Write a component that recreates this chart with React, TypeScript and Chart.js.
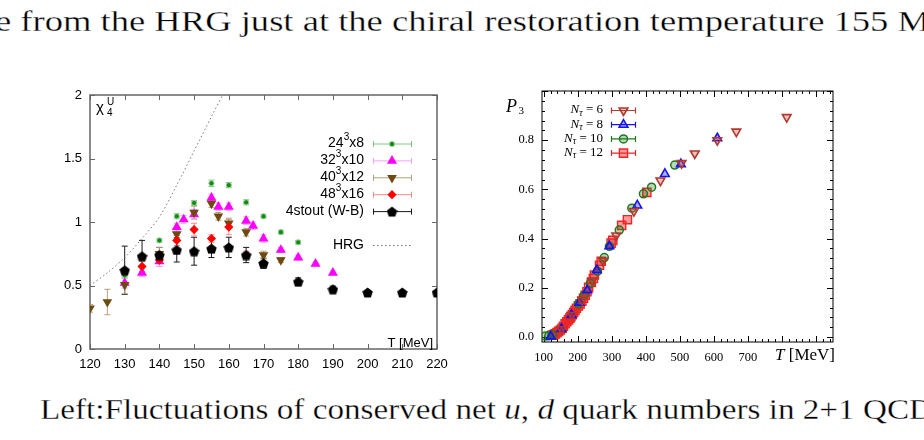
import React, { useEffect, useRef } from 'react';
import { Chart, registerables } from 'chart.js';
import { drawPoint } from 'chart.js/helpers';

Chart.register(...registerables);

/* ---------- left panel: chi_4^u versus T [MeV] ---------- */
const LEFT_T_TICKS = [120, 130, 140, 150, 160, 170, 180, 190, 200, 210, 220];
const LEFT_CHI_TICKS = [0, 0.5, 1, 1.5, 2];

const T_24x8 = [130, 140, 145, 150, 155, 160, 165, 170, 175, 180];
const CHI_24x8 = [0.58, 0.855, 1.045, 1.15, 1.305, 1.29, 1.155, 1.045, 0.92, 0.84];
const ERR_24x8 = [0.02, 0.015, 0.02, 0.02, 0.025, 0.02, 0.02, 0.015, 0.015, 0.015];

const T_32x10 = [130, 135, 140, 145, 147, 150, 155, 157, 160, 165, 167, 170, 175, 180, 185, 190];
const CHI_32x10 = [0.52, 0.6, 0.69, 0.96, 1.02, 1.06, 1.19, 1.12, 1.12, 1.01, 0.97, 0.87, 0.78, 0.72, 0.67, 0.6];
const ERR_32x10 = [0.04, 0.03, 0.04, 0.03, 0.03, 0.04, 0.03, 0.03, 0.03, 0.03, 0.03, 0.03, 0.02, 0.02, 0.015, 0.015];

const T_40x12 = [120, 125, 130, 140, 145, 150, 155, 157, 160, 165, 170, 175];
const CHI_40x12 = [0.32, 0.37, 0.505, 0.75, 0.905, 1.075, 1.145, 1.045, 0.99, 0.92, 0.74, 0.7];
const ERR_40x12 = [0.03, 0.1, 0.07, 0.05, 0.04, 0.05, 0.03, 0.03, 0.04, 0.03, 0.03, 0.02];

const T_48x16 = [135, 140, 145, 150, 155, 160, 165];
const CHI_48x16 = [0.65, 0.7, 0.855, 0.94, 0.87, 0.96, 0.74];
const ERR_48x16 = [0.04, 0.05, 0.04, 0.05, 0.03, 0.06, 0.03];

const T_STOUT = [130, 135, 140, 145, 150, 155, 160, 165, 170, 180, 190, 200, 210, 220];
const CHI_STOUT = [0.62, 0.73, 0.74, 0.78, 0.77, 0.79, 0.8, 0.74, 0.675, 0.53, 0.47, 0.445, 0.445, 0.445];
const ERR_STOUT = [0.19, 0.125, 0.06, 0.095, 0.11, 0.07, 0.08, 0.06, 0.04, 0.03, 0.025, 0.012, 0.01, 0.01];

const T_HRG = [120, 125, 130, 135, 140, 145, 150, 155, 159];
const CHI_HRG = [0.5, 0.6, 0.72, 0.87, 1.04, 1.29, 1.56, 1.83, 2.04];

/* ---------- right panel: P3 versus T [MeV] ---------- */
const RIGHT_T_TICKS = [100, 200, 300, 400, 500, 600, 700, 800, 900];
const RIGHT_P_TICKS = [0, 0.2, 0.4, 0.6, 0.8];

const T_NT6 = [152, 183, 213, 243, 274, 313, 365, 443, 505, 544, 610, 666, 814];
const P_NT6 = [0.032, 0.09, 0.15, 0.23, 0.31, 0.413, 0.512, 0.636, 0.707, 0.746, 0.8, 0.835, 0.894];

const T_NT8 = [121, 152, 182, 205, 228, 256, 293, 375, 456, 503, 610];
const P_NT8 = [0.003, 0.033, 0.09, 0.14, 0.19, 0.272, 0.369, 0.535, 0.663, 0.703, 0.808];

const T_NT10 = [105, 115, 126, 202, 219, 237, 258, 278, 293, 322, 359, 393, 417, 485];
const P_NT10 = [0.004, 0.005, 0.008, 0.135, 0.171, 0.218, 0.268, 0.323, 0.369, 0.435, 0.524, 0.582, 0.609, 0.699];

const T_NT12 = [125, 130, 134, 139, 144, 149, 154, 158, 163, 168, 173, 177, 180, 184, 188, 192, 196, 202, 207, 212, 217, 222, 227, 232, 240, 246, 249, 264, 269, 298, 303, 329, 346, 403];
const P_NT12 = [0.008, 0.01, 0.013, 0.018, 0.023, 0.029, 0.036, 0.044, 0.054, 0.062, 0.07, 0.077, 0.083, 0.091, 0.1, 0.108, 0.117, 0.127, 0.135, 0.146, 0.158, 0.17, 0.184, 0.202, 0.222, 0.238, 0.252, 0.292, 0.308, 0.382, 0.393, 0.454, 0.477, 0.588];

const SANS = '"Liberation Sans", Arial, Helvetica, sans-serif';
const SERIF = '"Liberation Serif", "Times New Roman", serif';

const pts = (xs: number[], ys: number[]) => xs.map((x, i) => ({ x, y: ys[i] }));

function pentagon(size: number, color: string) {
  const c = document.createElement('canvas');
  c.width = size;
  c.height = size;
  const g = c.getContext('2d')!;
  const r = size / 2;
  g.beginPath();
  for (let k = 0; k < 5; k++) {
    const a = -Math.PI / 2 + (k * 2 * Math.PI) / 5;
    const px = r + r * Math.cos(a);
    const py = r + 0.6 + r * Math.sin(a);
    if (k === 0) g.moveTo(px, py);
    else g.lineTo(px, py);
  }
  g.closePath();
  g.fillStyle = color;
  g.fill();
  return c;
}

type Piece = { t: string; font: string; dy: number };

function drawRich(ctx: CanvasRenderingContext2D, pieces: Piece[], right: number, y: number) {
  let w = 0;
  pieces.forEach((p) => {
    ctx.font = p.font;
    w += ctx.measureText(p.t).width;
  });
  let x = right - w;
  ctx.textAlign = 'left';
  pieces.forEach((p) => {
    ctx.font = p.font;
    ctx.fillText(p.t, x, y + p.dy);
    x += ctx.measureText(p.t).width;
  });
}

function drawMarker(ctx: CanvasRenderingContext2D, opts: any, x: number, y: number) {
  ctx.save();
  ctx.fillStyle = opts.backgroundColor;
  ctx.strokeStyle = opts.borderColor;
  ctx.lineWidth = opts.borderWidth;
  drawPoint(ctx, opts, x, y);
  ctx.restore();
}

// vertical error bars with short caps, read from dataset.errY
const errorBars = {
  id: 'errorBars',
  beforeDatasetsDraw(chart: any) {
    const { ctx, chartArea, scales } = chart;
    ctx.save();
    ctx.beginPath();
    ctx.rect(chartArea.left, chartArea.top, chartArea.width, chartArea.height);
    ctx.clip();
    chart.data.datasets.forEach((ds: any) => {
      if (!ds.errY) return;
      ctx.strokeStyle = ds.errColor;
      ctx.lineWidth = 1;
      ds.data.forEach((p: any, i: number) => {
        const e = ds.errY[i];
        if (!e) return;
        const x = scales.x.getPixelForValue(p.x);
        const y1 = scales.y.getPixelForValue(p.y - e);
        const y2 = scales.y.getPixelForValue(p.y + e);
        ctx.beginPath();
        ctx.moveTo(x, y1);
        ctx.lineTo(x, y2);
        ctx.moveTo(x - 3, y1);
        ctx.lineTo(x + 3, y1);
        ctx.moveTo(x - 3, y2);
        ctx.lineTo(x + 3, y2);
        ctx.stroke();
      });
    });
    ctx.restore();
  },
};

// box around the plot with inward tick marks on all four sides
function frame(o: {
  id: string;
  color: string;
  width: number;
  xMajor: number[];
  yMajor: number[];
  xMinor?: [number, number, number];
  yMinor?: [number, number, number];
  major: number;
  minor: number;
}) {
  return {
    id: o.id,
    beforeDatasetsDraw(chart: any) {
      const { ctx, chartArea: a, scales } = chart;
      ctx.save();
      ctx.strokeStyle = o.color;
      ctx.lineWidth = o.width;
      ctx.strokeRect(a.left, a.top, a.width, a.height);
      ctx.lineWidth = 1;
      const xt = (v: number, len: number) => {
        const x = Math.round(scales.x.getPixelForValue(v)) + 0.5;
        ctx.moveTo(x, a.bottom);
        ctx.lineTo(x, a.bottom - len);
        ctx.moveTo(x, a.top);
        ctx.lineTo(x, a.top + len);
      };
      const yt = (v: number, len: number) => {
        const y = Math.round(scales.y.getPixelForValue(v)) + 0.5;
        ctx.moveTo(a.left, y);
        ctx.lineTo(a.left + len, y);
        ctx.moveTo(a.right, y);
        ctx.lineTo(a.right - len, y);
      };
      ctx.beginPath();
      o.xMajor.forEach((v) => xt(v, o.major));
      o.yMajor.forEach((v) => yt(v, o.major));
      if (o.xMinor) for (let v = o.xMinor[0]; v <= o.xMinor[1] + 1e-9; v += o.xMinor[2]) xt(v, o.minor);
      if (o.yMinor) for (let v = o.yMinor[0]; v <= o.yMinor[1] + 1e-9; v += o.yMinor[2]) yt(v, o.minor);
      ctx.stroke();
      ctx.restore();
    },
  };
}

const LEFT_NAMES: [string, string, string][] = [
  ['24', '3', 'x8'],
  ['32', '3', 'x10'],
  ['40', '3', 'x12'],
  ['48', '3', 'x16'],
  ['4stout (W-B)', '', ''],
];

const leftDecor = {
  id: 'leftDecor',
  afterDraw(chart: any) {
    const ctx: CanvasRenderingContext2D = chart.ctx;
    ctx.save();
    ctx.fillStyle = '#000';
    ctx.textBaseline = 'middle';
    chart.data.datasets.forEach((ds: any, i: number) => {
      if (ds.legendRow === undefined) return;
      const y = ds.legendRow < 5 ? 63.5 + ds.legendRow * 16.9 : 165;
      const n = ds.legendRow < 5 ? LEFT_NAMES[ds.legendRow] : ['HRG', '', ''];
      const pieces: Piece[] = [{ t: n[0], font: `14px ${SANS}`, dy: 0 }];
      if (n[1]) pieces.push({ t: n[1], font: `10px ${SANS}`, dy: -6 });
      if (n[2]) pieces.push({ t: n[2], font: `14px ${SANS}`, dy: 0 });
      ctx.fillStyle = '#000';
      drawRich(ctx, pieces, 324, y);
      ctx.beginPath();
      if (ds.legendRow < 5) {
        ctx.strokeStyle = ds.errColor;
        ctx.lineWidth = 1;
        ctx.moveTo(333, y + 0.5);
        ctx.lineTo(372, y + 0.5);
        ctx.moveTo(333.5, y - 2.5);
        ctx.lineTo(333.5, y + 3.5);
        ctx.moveTo(371.5, y - 2.5);
        ctx.lineTo(371.5, y + 3.5);
        ctx.stroke();
        drawMarker(ctx, chart.getDatasetMeta(i).data[0].options, 352, y + 0.5);
      } else {
        ctx.strokeStyle = '#777';
        ctx.lineWidth = 1;
        ctx.setLineDash([1.5, 2.5]);
        ctx.moveTo(333, y + 0.5);
        ctx.lineTo(372, y + 0.5);
        ctx.stroke();
        ctx.setLineDash([]);
      }
    });
    // axis symbol chi_4^U
    ctx.fillStyle = '#000';
    ctx.textBaseline = 'alphabetic';
    ctx.textAlign = 'left';
    ctx.font = `15px ${SANS}`;
    ctx.fillText('\u03c7', 56, 32);
    ctx.font = `10px ${SANS}`;
    ctx.fillText('4', 67, 35.5);
    ctx.fillText('U', 67, 24.5);
    // axis title in the lower right corner
    ctx.font = `13px ${SANS}`;
    ctx.textAlign = 'right';
    ctx.fillText('T [MeV]', 393, 267);
    ctx.restore();
  },
};

const RIGHT_NAMES = ['6', '8', '10', '12'];

const rightDecor = {
  id: 'rightDecor',
  afterDraw(chart: any) {
    const ctx: CanvasRenderingContext2D = chart.ctx;
    ctx.save();
    ctx.textBaseline = 'middle';
    chart.data.datasets.forEach((ds: any, i: number) => {
      const y = 30 + ds.legendRow * 14.2;
      ctx.fillStyle = '#000';
      drawRich(
        ctx,
        [
          { t: 'N', font: `italic 13px ${SERIF}`, dy: 0 },
          { t: '\u03c4', font: `italic 9.5px ${SERIF}`, dy: 3 },
          { t: ' = ' + RIGHT_NAMES[ds.legendRow], font: `13px ${SERIF}`, dy: 0 },
        ],
        123,
        y
      );
      ctx.beginPath();
      ctx.strokeStyle = ds.borderColor;
      ctx.lineWidth = 1.2;
      ctx.moveTo(131, y + 0.5);
      ctx.lineTo(156, y + 0.5);
      ctx.moveTo(131.5, y - 2.5);
      ctx.lineTo(131.5, y + 3.5);
      ctx.moveTo(155.5, y - 2.5);
      ctx.lineTo(155.5, y + 3.5);
      ctx.stroke();
      drawMarker(ctx, chart.getDatasetMeta(i).data[0].options, 143.5, y + 0.5);
    });
    ctx.textBaseline = 'alphabetic';
    ctx.textAlign = 'left';
    ctx.fillStyle = '#000';
    ctx.font = `italic 18px ${SERIF}`;
    ctx.fillText('P', 26, 31.5);
    ctx.font = `11px ${SERIF}`;
    ctx.fillText('3', 38.5, 34);
    ctx.textAlign = 'right';
    ctx.font = `17px ${SERIF}`;
    const rest = ' [MeV]';
    const wr = ctx.measureText(rest).width;
    ctx.fillText(rest, 355, 280);
    ctx.font = `italic 17px ${SERIF}`;
    ctx.fillText('T', 355 - wr, 280);
    ctx.restore();
  },
};

function leftConfig(): any {
  const stout = pentagon(11, '#000');
  return {
    type: 'scatter',
    data: {
      datasets: [
        {
          data: pts(T_STOUT, CHI_STOUT), errY: ERR_STOUT, errColor: '#1a1a1a', legendRow: 4,
          pointStyle: stout, pointRadius: 5.5, backgroundColor: '#000', borderColor: '#000', borderWidth: 0,
        },
        {
          data: pts(T_48x16, CHI_48x16), errY: ERR_48x16, errColor: '#f58a8a', legendRow: 3,
          pointStyle: 'rectRot', pointRadius: 4.6, backgroundColor: '#ff0000', borderColor: '#ff0000', borderWidth: 0,
        },
        {
          data: pts(T_40x12, CHI_40x12), errY: ERR_40x12, errColor: '#b5a07a', legendRow: 2,
          pointStyle: 'triangle', pointRotation: 180, pointRadius: 5.6, backgroundColor: '#6e4a10', borderColor: '#6e4a10', borderWidth: 0,
        },
        {
          data: pts(T_32x10, CHI_32x10), errY: ERR_32x10, errColor: '#f5a0f5', legendRow: 1,
          pointStyle: 'triangle', pointRadius: 5.8, backgroundColor: '#ff00ff', borderColor: '#ff00ff', borderWidth: 0,
        },
        {
          data: pts(T_24x8, CHI_24x8), errY: ERR_24x8, errColor: '#80c880', legendRow: 0,
          pointStyle: 'circle', pointRadius: 2.6, backgroundColor: '#138a13', borderColor: '#9ad29a', borderWidth: 1,
        },
        {
          type: 'line', data: pts(T_HRG, CHI_HRG), legendRow: 5,
          borderColor: '#777', borderWidth: 1, borderDash: [1.5, 2.5], pointRadius: 0, tension: 0.3, fill: false,
        },
      ],
    },
    options: {
      animation: false,
      responsive: false,
      events: [],
      layout: { padding: { left: 0, right: 23, top: 15, bottom: 0 } },
      plugins: { legend: { display: false }, tooltip: { enabled: false } },
      scales: {
        x: {
          type: 'linear', min: 120, max: 220,
          grid: { display: false, drawTicks: false }, border: { display: false },
          afterBuildTicks: (s: any) => { s.ticks = LEFT_T_TICKS.map((v) => ({ value: v })); },
          ticks: { color: '#000', font: { family: SANS, size: 13 }, padding: 8, maxRotation: 0, autoSkip: false, callback: (v: number) => String(v) },
          afterFit: (s: any) => { s.height = 31; s.paddingLeft = 0; s.paddingRight = 0; },
        },
        y: {
          type: 'linear', min: 0, max: 2,
          grid: { display: false, drawTicks: false }, border: { display: false },
          afterBuildTicks: (s: any) => { s.ticks = LEFT_CHI_TICKS.map((v) => ({ value: v })); },
          ticks: { color: '#000', font: { family: SANS, size: 13 }, padding: 8, callback: (v: number) => String(v) },
          afterFit: (s: any) => { s.width = 50; s.paddingTop = 0; s.paddingBottom = 0; },
        },
      },
    },
    plugins: [
      frame({ id: 'leftFrame', color: '#666', width: 1.5, xMajor: LEFT_T_TICKS, yMajor: LEFT_CHI_TICKS, major: 5, minor: 0 }),
      errorBars,
      leftDecor,
    ],
  };
}

function rightConfig(): any {
  return {
    type: 'scatter',
    data: {
      datasets: [
        {
          data: pts(T_NT6, P_NT6), legendRow: 0,
          pointStyle: 'triangle', pointRotation: 180, pointRadius: 5, backgroundColor: 'rgba(179,56,46,0.3)', borderColor: '#b3382e', borderWidth: 1.6,
        },
        {
          data: pts(T_NT8, P_NT8), legendRow: 1,
          pointStyle: 'triangle', pointRadius: 5, backgroundColor: 'rgba(20,20,240,0.35)', borderColor: '#1414f0', borderWidth: 1.6,
        },
        {
          data: pts(T_NT10, P_NT10), legendRow: 2,
          pointStyle: 'circle', pointRadius: 4, backgroundColor: 'rgba(29,122,29,0.3)', borderColor: '#1d7a1d', borderWidth: 1.5,
        },
        {
          data: pts(T_NT12, P_NT12), legendRow: 3,
          pointStyle: 'rect', pointRadius: 5.8, backgroundColor: 'rgba(240,36,36,0.45)', borderColor: '#f02424', borderWidth: 1.4,
        },
      ],
    },
    options: {
      animation: false,
      responsive: false,
      events: [],
      layout: { padding: { left: 0, right: 67, top: 11, bottom: 0 } },
      plugins: { legend: { display: false }, tooltip: { enabled: false } },
      scales: {
        x: {
          type: 'linear', min: 95, max: 950,
          grid: { display: false, drawTicks: false }, border: { display: false },
          afterBuildTicks: (s: any) => { s.ticks = RIGHT_T_TICKS.map((v) => ({ value: v })); },
          ticks: {
            color: '#000', font: { family: SERIF, size: 12.5 }, padding: 8, maxRotation: 0, autoSkip: false,
            callback: (v: number) => (v <= 700 ? String(v) : ''),
          },
          afterFit: (s: any) => { s.height = 38; s.paddingLeft = 0; s.paddingRight = 0; },
        },
        y: {
          type: 'linear', min: -0.02, max: 1.0,
          grid: { display: false, drawTicks: false }, border: { display: false },
          afterBuildTicks: (s: any) => { s.ticks = RIGHT_P_TICKS.map((v) => ({ value: v })); },
          ticks: { color: '#000', font: { family: SERIF, size: 12.5 }, padding: 8, callback: (v: number) => v.toFixed(1) },
          afterFit: (s: any) => { s.width = 62; s.paddingTop = 0; s.paddingBottom = 0; },
        },
      },
    },
    plugins: [
      frame({
        id: 'rightFrame', color: '#000', width: 1, xMajor: RIGHT_T_TICKS, yMajor: [...RIGHT_P_TICKS, 1.0],
        xMinor: [100, 940, 20], yMinor: [0, 1.0, 0.04], major: 6, minor: 3,
      }),
      rightDecor,
    ],
  };
}

const textStyle = { stroke: '#fff', strokeWidth: 0.3, paintOrder: 'normal' } as any;

export default function App() {
  const leftRef = useRef<HTMLCanvasElement>(null);
  const rightRef = useRef<HTMLCanvasElement>(null);

  useEffect(() => {
    const a = new Chart(leftRef.current!, leftConfig());
    const b = new Chart(rightRef.current!, rightConfig());
    return () => {
      a.destroy();
      b.destroy();
    };
  }, []);

  return (
    <div style={{ position: 'fixed', left: 0, top: 0, width: 924, height: 440, background: '#fff', overflow: 'hidden' }}>
      <svg width={924} height={440} style={{ position: 'absolute', left: 0, top: 0 }}>
        <text x={-5} y={31} fontFamily={SERIF} fontSize={29} textLength={935} lengthAdjust="spacingAndGlyphs" fill="#000" style={textStyle}>
          e from the HRG just at the chiral restoration temperature 155 M
        </text>
        <text x={40} y={419} fontFamily={SERIF} fontSize={29} textLength={893} lengthAdjust="spacingAndGlyphs" fill="#000" style={textStyle}>
          {'Left:Fluctuations of conserved net '}
          <tspan fontStyle="italic">u</tspan>
          {', '}
          <tspan fontStyle="italic">d</tspan>
          {' quark numbers in 2+1 QCD'}
        </text>
      </svg>
      <canvas ref={leftRef} width={420} height={300} style={{ position: 'absolute', left: 40, top: 80 }} />
      <canvas ref={rightRef} width={420} height={300} style={{ position: 'absolute', left: 480, top: 80 }} />
    </div>
  );
}
